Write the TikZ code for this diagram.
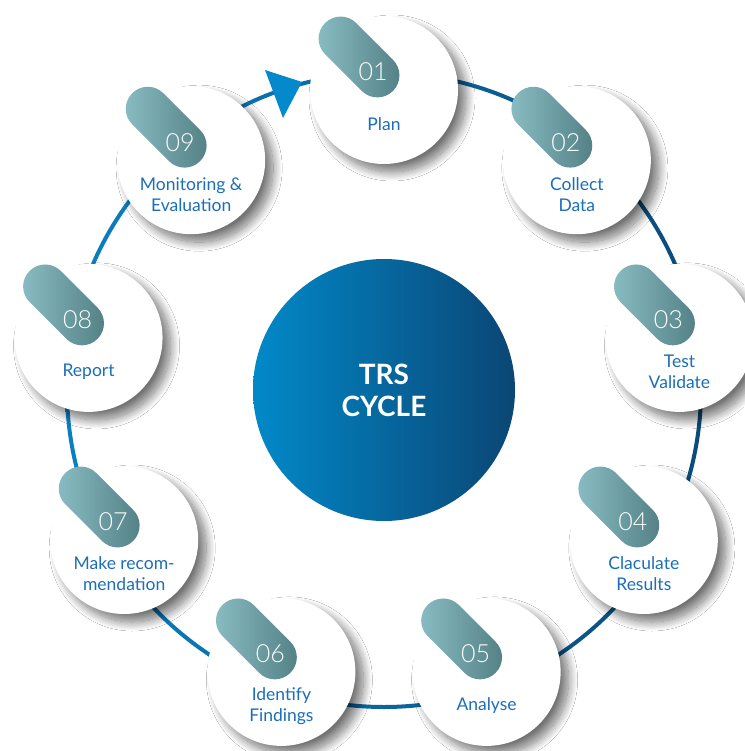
\documentclass[tikz,border=0pt]{standalone}
\usepackage{fontspec}
\setmainfont{Lato}
\IfFontExistsTF{Lato Light}{\newfontfamily\numfont{Lato Light}}{\newfontfamily\numfont{Lato}}
\usetikzlibrary{shadows.blur,calc}
\definecolor{ringL}{HTML}{0A80C2}
\definecolor{ringR}{HTML}{0B4B7A}
\definecolor{arrowblue}{HTML}{0389CC}
\definecolor{coreL}{HTML}{0289C9}
\definecolor{coreR}{HTML}{0A4674}
\definecolor{pillL}{HTML}{8EC2C8}
\definecolor{pillR}{HTML}{4E7B80}
\definecolor{labelblue}{HTML}{1B6EB7}
\begin{document}
\begin{tikzpicture}[x=1pt,y=-1pt,
  stepcircle/.style={circle, fill=white, minimum size=148pt, inner sep=0pt,
    blur shadow={shadow xshift=8pt, shadow yshift=-8pt, shadow blur radius=9pt,
      shadow blur steps=16, shadow opacity=55}},
  numtext/.style={text=white, font=\numfont\fontsize{25}{25}\selectfont, inner sep=0pt},
  labeltext/.style={text=labelblue, font=\fontsize{17.5}{21}\selectfont, align=center, inner sep=0pt},
  pillshade/.style={left color=pillL, right color=pillR, rounded corners=21.9pt},
  corecircle/.style={circle, minimum size=262pt, inner sep=0pt, left color=coreL, right color=coreR,
    text=white, font=\bfseries\fontsize{28}{32}\selectfont, align=center}
]
\useasboundingbox (0,0) rectangle (744,751);
\fill[white] (0,0) rectangle (744,751);
\coordinate (c) at (384,390);
% ring
\shade[even odd rule, left color=ringL, right color=ringR] (c) circle[radius=319pt] (c) circle[radius=315pt];
% arrow head
\coordinate (arrowtip) at (302,82);
\fill[arrowblue] (265,70) -- (arrowtip) -- (283,118) -- cycle;
% steps
\foreach \i/\lbl in {1/Plan, 2/{Collect\\Data}, 3/{Test\\Validate}, 4/{Claculate\\Results}, 5/Analyse, 6/{Identify\\Findings}, 7/{Make recom-\\mendation}, 8/Report, 9/{Monitoring \&\\Evaluation}}{
  \pgfmathsetmacro\ang{90-40*(\i-1)}
  \node[stepcircle] (s\i) at ({384+300*cos(\ang)}, {390-300*sin(\ang)}) {};
  \begin{scope}[shift={(s\i.center)}]
    \shade[pillshade] (24.5,-14.62) -- (-6.62,16.5) -- (-74.5,-51.38) -- (-43.38,-82.5) -- cycle;
  \end{scope}
  \node[numtext] (num\i) at ($(s\i)+(-11,-18)$) {0\i};
  \node[labeltext] (lbl\i) at ($(s\i)+(0,34)$) {\lbl};
}
% center
\node[corecircle] (core) at (c) {TRS\\CYCLE};
\end{tikzpicture}
\end{document}
